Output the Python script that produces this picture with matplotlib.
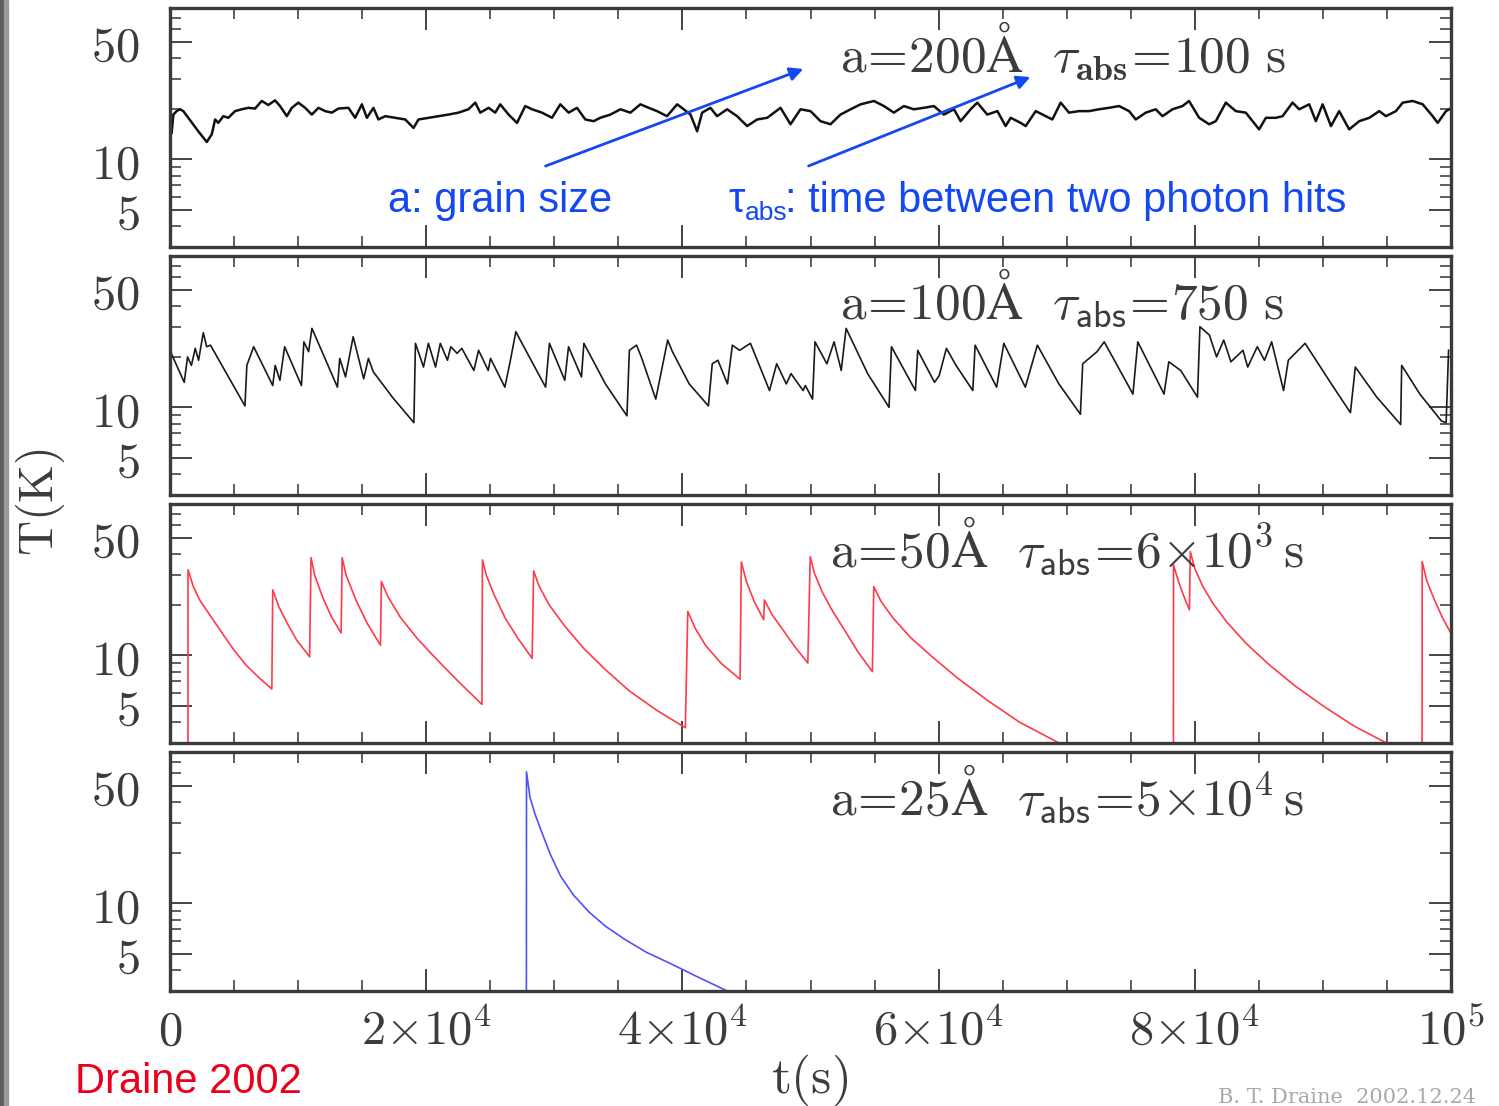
import numpy as np
import matplotlib
matplotlib.use('Agg')
from matplotlib import pyplot as plt
from matplotlib.patches import Rectangle, FancyArrowPatch

plt.rcParams['mathtext.fontset'] = 'cm'

# (t in units of 10^3 s, T in K)
p1 = [(0.13,14.4),(0.26,18.5),(0.52,19.4),(0.78,19.9),(1.04,19.4),(1.43,17.7),(2.21,14.7),(2.87,12.7),
      (3.26,14.1),(3.52,17.3),(3.77,16.5),(4.16,18.1),(4.55,17.7),(5.08,19.4),(5.60,19.9),(6.12,20.3),
      (6.64,20.1),(7.16,22.3),(7.68,21.1),(8.20,22.5),(8.59,20.8),(9.12,18.1),(9.51,20.3),(10.02,21.8),
      (10.55,20.3),(11.07,18.5),(11.59,20.3),(12.11,19.4),(12.63,19.0),(13.15,20.1),(13.93,20.3),(14.45,17.7),
      (14.98,21.3),(15.37,17.7),(15.88,20.3),(16.27,17.3),(16.80,18.1),(17.58,17.7),(18.36,17.3),(19.01,15.4),
      (19.40,17.3),(20.18,17.7),(20.96,18.1),(21.74,18.5),(22.52,19.0),(23.30,19.9),(23.83,21.8),(24.22,19.0),
      (24.87,20.3),(25.39,19.0),(25.78,21.3),(26.43,18.5),(27.09,16.5),(27.73,20.8),(28.26,19.9),(29.04,19.0),
      (29.82,17.7),(30.47,21.3),(31.12,19.0),(31.77,20.3),(32.42,17.3),(33.07,16.9),(33.59,17.7),(34.38,18.5),
      (35.16,19.9),(35.94,19.0),(36.72,21.3),(37.37,20.3),(38.02,19.4),(38.80,18.1),(39.59,21.3),(40.10,19.9),
      (40.63,18.5),(41.15,14.7),(41.54,19.0),(42.19,20.3),(42.71,18.1),(43.49,19.9),(44.27,18.1),(45.05,15.8),
      (45.84,17.3),(46.62,17.7),(47.66,20.3),(48.44,16.2),(49.22,19.9),(50.00,19.4),(50.78,16.9),(51.56,16.2),
      (52.34,18.5),(53.13,19.9),(53.91,21.3),(54.95,22.3),(55.73,20.8),(56.51,19.0),(57.29,20.8),(58.07,19.9),
      (58.85,20.3),(59.63,20.8),(60.41,18.5),(61.20,19.9),(61.72,16.9),(62.50,19.9),(63.02,21.8),(63.80,18.5),
      (64.59,19.4),(65.23,15.8),(65.63,17.7),(66.41,16.5),(66.80,15.8),(67.58,19.4),(68.36,18.1),(68.88,17.3),
      (69.53,21.8),(70.18,19.0),(70.96,19.4),(71.74,19.4),(72.52,19.9),(73.30,20.3),(74.09,20.8),(74.87,19.4),
      (75.39,17.3),(76.17,19.0),(76.95,19.9),(77.48,18.1),(78.26,19.9),(79.04,20.8),(79.55,22.3),(80.34,17.7),
      (81.12,16.2),(81.64,16.9),(82.42,21.8),(83.20,19.4),(83.98,19.0),(85.02,15.1),(85.55,17.7),(86.33,17.7),
      (86.85,18.1),(87.63,21.8),(88.15,19.9),(88.93,21.3),(89.45,16.9),(89.98,21.3),(90.63,15.8),(91.27,19.4),
      (92.05,15.1),(92.84,16.9),(93.62,17.7),(94.40,19.4),(94.92,18.1),(95.70,19.4),(96.23,21.8),(97.01,22.3),
      (97.79,21.3),(98.57,18.1),(98.96,16.5),(99.61,19.4),(99.87,19.9)]

p2 = [(0.10,21.0),(1.11,14.1),(1.37,20.0),(1.67,17.8),(1.97,22.5),(2.23,19.1),(2.60,27.9),(2.86,23.0),
      (3.16,23.5),(5.85,10.2),(6.00,17.8),(6.53,23.0),(8.02,13.5),(8.21,17.8),(8.58,14.5),(8.95,23.0),
      (10.26,13.5),(10.45,24.6),(10.82,21.5),(11.08,29.6),(13.07,13.2),(13.25,19.6),(13.70,15.2),(14.30,26.4),
      (15.12,14.8),(15.49,19.6),(15.87,16.3),(17.36,11.5),(19.04,8.1),(19.16,24.1),(19.79,17.4),(20.17,24.1),
      (20.73,17.4),(21.10,24.1),(21.66,19.1),(21.92,23.0),(22.41,21.0),(22.78,22.5),(23.72,16.6),(24.09,21.9),
      (24.84,16.6),(25.02,19.6),(26.14,13.2),(26.52,18.2),(27.00,28.3),(27.27,25.8),(29.32,13.2),(29.62,24.1),
      (30.82,14.5),(31.11,23.0),(32.12,15.2),(32.31,24.1),(33.99,13.8),(35.67,8.9),(35.86,21.9),(36.42,23.5),
      (36.79,20.0),(37.92,11.2),(38.85,25.2),(39.22,21.5),(40.53,13.8),(42.03,10.2),(42.33,18.2),(42.77,19.1),
      (43.52,13.8),(43.90,23.5),(44.46,21.9),(45.31,24.1),(46.80,12.6),(47.36,18.2),(48.11,13.8),(48.48,15.9),
      (49.42,12.6),(49.60,13.5),(50.16,11.2),(50.35,24.6),(51.28,18.2),(51.84,24.6),(52.40,16.6),(52.78,29.6),
      (54.46,15.9),(56.13,10.0),(56.32,23.0),(58.19,12.6),(58.37,21.9),(59.68,14.1),(60.05,15.5),(60.61,22.5),
      (61.36,17.8),(62.67,12.6),(62.85,23.5),(64.53,13.2),(65.09,24.1),(66.77,13.2),(67.71,23.5),(69.39,13.8),
      (71.07,9.1),(71.25,18.2),(72.37,21.5),(72.93,24.6),(75.17,12.0),(75.55,24.6),(77.60,12.0),(77.97,18.7),
      (78.90,16.6),(80.21,11.5),(80.40,30.3),(81.14,27.0),(81.70,20.0),(82.26,25.2),(82.82,18.7),(83.76,21.9),
      (84.13,17.4),(84.88,23.0),(85.44,19.1),(86.00,24.6),(86.93,12.6),(87.30,19.1),(88.61,24.1),(90.66,13.8),
      (92.15,9.3),(92.53,17.4),(94.21,11.5),(96.07,7.9),(96.15,17.8),(97.57,12.0),(99.25,8.3),(99.62,8.1),
      (99.81,21.9)]

p3 = [(1.40,2.0),(1.41,32.4),(1.8,26.0),(2.3,21.5),(3.2,17.0),(3.9,14.2),(4.9,11.0),(5.9,8.8),(7.0,7.3),
      (7.95,6.3),(8.02,24.6),(8.5,19.5),(9.14,15.6),(9.9,12.3),(10.90,9.8),
      (11.01,38.3),(11.3,30.0),(11.94,22.0),(12.6,17.0),(13.36,13.6),
      (13.44,38.3),(13.75,30.0),(14.56,21.0),(15.4,15.5),(16.43,11.5),
      (16.50,27.6),(17.0,22.5),(18.0,16.8),(19.3,12.6),(20.8,9.5),(22.5,7.0),(24.35,5.1),
      (24.39,37.1),(24.7,30.0),(25.3,23.0),(26.2,16.5),(27.2,12.5),(28.27,9.6),
      (28.39,31.9),(28.8,26.0),(29.6,20.0),(30.8,15.0),(32.3,11.0),(34.0,8.2),(35.9,6.1),(38.0,4.7),(40.23,3.7),
      (40.42,18.3),(41.0,14.5),(41.8,11.5),(43.0,9.0),(44.50,7.2),
      (44.60,36.1),(45.0,27.5),(45.6,21.0),(46.35,16.3),
      (46.40,21.4),(47.0,17.5),(47.9,14.0),(48.8,11.2),(49.79,9.0),
      (49.98,38.8),(50.3,31.0),(50.9,24.0),(51.7,18.5),(52.7,14.0),(53.7,10.5),(54.83,8.0),
      (54.94,25.7),(55.5,21.0),(56.5,16.5),(57.8,12.8),(59.5,9.8),(61.5,7.3),(63.8,5.4),(66.3,4.0),(69.4,3.0),
      (71.44,2.4),(78.33,1.5),
      (78.34,34.6),(78.7,28.0),(79.1,23.0),(79.58,18.7),
      (79.65,41.6),(80.0,33.0),(80.6,26.0),(81.4,20.5),(82.5,15.8),(84.0,11.8),(85.8,8.8),(87.8,6.6),
      (90.0,5.0),(92.4,3.8),(94.96,3.0),(96.50,2.4),(97.74,2.0),
      (97.75,36.3),(98.1,28.0),(98.7,21.5),(99.3,17.0),(100.0,13.5)]

p4 = [(27.82,2.0),(27.83,60.9),(28.1,43.0),(28.5,34.0),(28.95,27.5),(29.7,19.5),(30.5,14.5),(31.5,11.2),
      (32.7,8.9),(34.0,7.3),(35.5,6.1),(37.2,5.1),(39.0,4.4),(41.0,3.7),(43.5,3.0),(46.0,2.6)]

panels = [p1, p2, p3, p4]
colors = ['#111111', '#1a1a1a', '#ff3b4a', '#5050ff']
widths = [1.8, 1.2, 1.2, 1.2]
labels = [r'$\mathrm{a\!=\!200\AA}\ \ \tau_{\mathbf{abs}}\!=\!100\ \mathrm{s}$',
          r'$\mathrm{a\!=\!100\AA}\ \ \tau_{\mathsf{abs}}\!=\!750\ \mathrm{s}$',
          r'$\mathrm{a\!=\!50\AA}\ \ \tau_{\mathsf{abs}}\!=\!6{\times}10^{3}\,\mathrm{s}$',
          r'$\mathrm{a\!=\!25\AA}\ \ \tau_{\mathsf{abs}}\!=\!5{\times}10^{4}\,\mathrm{s}$']
label_x = [0.523, 0.523, 0.515, 0.515]

xticks = [0, 2e4, 4e4, 6e4, 8e4, 1e5]
xticklabels = [r'$0$', r'$2{\times}10^4$', r'$4{\times}10^4$', r'$6{\times}10^4$', r'$8{\times}10^4$', r'$10^5$']
yticks = [5, 10, 50]
yticklabels = [r'$5$', r'$10$', r'$50$']
yminor = [3, 4, 6, 7, 8, 9, 20, 30, 40, 60, 70]

W, H = 1499, 1106
fig = plt.figure(figsize=(W/100, H/100), dpi=100)
fig.patches.append(Rectangle((0, 0), 4/W, 1, transform=fig.transFigure, color='#5e5e5e', zorder=0))
fig.patches.append(Rectangle((4/W, 0), 4/W, 1, transform=fig.transFigure, color='#9a9a9a', zorder=0))

tops = [8, 256, 504, 752]
gray = '#3c3c3c'
for i, p in enumerate(panels):
    ax = fig.add_axes([170/W, 1-(tops[i]+239)/H, 1281/W, 239/H])
    t = np.array([a for a, b in p]) * 1e3
    T = np.array([b for a, b in p])
    ax.plot(t, T, color=colors[i], lw=widths[i])
    ax.set_yscale('log')
    ax.set_xlim(0, 1e5)
    ax.set_ylim(3, 80)
    ax.set_yticks(yticks)
    ax.set_yticklabels(yticklabels)
    ax.set_yticks(yminor, minor=True)
    ax.yaxis.set_minor_formatter(plt.NullFormatter())
    ax.set_xticks(xticks)
    ax.set_xticks(np.arange(0, 1e5+1, 5e3), minor=True)
    if i == 3:
        ax.set_xticklabels(xticklabels)
    else:
        ax.set_xticklabels([])
    ax.tick_params(which='major', direction='in', length=16, width=1.4, top=True, right=True,
                   color='#444444', labelsize=35, labelcolor=gray)
    ax.tick_params(which='minor', direction='in', length=8, width=1.2, top=True, right=True, color='#444444')
    ax.tick_params(axis='x', pad=11)
    ax.tick_params(axis='y', pad=22)
    for s in ax.spines.values():
        s.set_linewidth(2.4)
        s.set_color('#3a3a3a')
    ax.text(label_x[i], 0.82, labels[i], transform=ax.transAxes, fontsize=37, color=gray,
            ha='left', va='center')

fig.text(40/W, 1-502/H, r'$\mathrm{T(K)}$', rotation=90, fontsize=35, color=gray, ha='center', va='center')
fig.text(810/W, 1-1080/H, r'$\mathrm{t(s)}$', fontsize=37, color=gray, ha='center', va='center')

blue = '#1448f0'
sans = ['Liberation Sans', 'DejaVu Sans']
fig.text(388/W, 1-212/H, 'a: grain size', fontsize=30, color=blue, family=sans, ha='left', va='baseline')
fig.text(728/W, 1-212/H, 'τ', fontsize=30, color=blue, family=sans, ha='left', va='baseline')
fig.text(745/W, 1-220/H, 'abs', fontsize=19, color=blue, family=sans, ha='left', va='baseline')
fig.text(785/W, 1-212/H, ': time between two photon hits', fontsize=30, color=blue, family=sans,
         ha='left', va='baseline')
for (x0, y0, x1, y1) in [(543, 167, 806, 68), (806, 167, 1033, 76)]:
    fig.add_artist(FancyArrowPatch((x0/W, 1-y0/H), (x1/W, 1-y1/H), transform=fig.transFigure,
                   arrowstyle='-|>,head_length=8,head_width=4', color=blue, lw=2))

fig.text(75/W, 4/H, 'Draine 2002', fontsize=30, color='#e8001c', family=sans, ha='left', va='bottom')
fig.text(1218/W, 1-1103/H, 'B. T. Draine  2002.12.24', fontsize=15, color='#a8a8a8', family='DejaVu Serif',
         ha='left', va='baseline')

fig.savefig('out.png', dpi=100)
